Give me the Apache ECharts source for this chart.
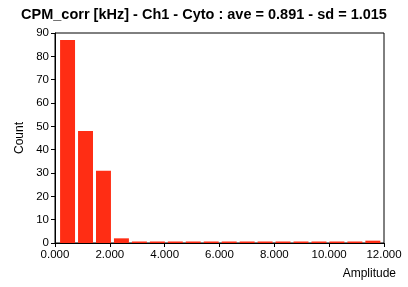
<!DOCTYPE html>
<html><head><meta charset="utf-8">
<script src="https://cdn.jsdelivr.net/npm/echarts@6/dist/echarts.min.js"></script>
<style>html,body{margin:0;padding:0;background:#fff}#c{width:408px;height:287px}</style>
</head><body><div id="c"></div>
<script>
const titleText = 'CPM_corr [kHz] - Ch1 - Cyto : ave = 0.891 - sd = 1.015';
const binCenters = [0.458, 1.113, 1.768, 2.423, 3.078, 3.733, 4.388, 5.043, 5.698, 6.353, 7.008, 7.663, 8.318, 8.973, 9.628, 10.283, 10.938, 11.593];
const binWidth = 0.655;
const counts = [87, 48, 31, 2, 0, 0, 0, 0, 0, 0, 0, 0, 0, 0, 0, 0, 0, 1];
const xTicks = [0, 2, 4, 6, 8, 10, 12];
const yTicks = [0, 10, 20, 30, 40, 50, 60, 70, 80, 90];

const chart = echarts.init(document.getElementById('c'), null, {renderer: 'canvas'});
const font = 'Liberation Sans';
chart.setOption({
  animation: false,
  title: {text: titleText, left: 'center', top: 2,
    textStyle: {fontFamily: font, fontWeight: 'bold', fontSize: 14.5, color: '#000'}},
  grid: {left: 55, right: 24, top: 33, bottom: 44, show: true, borderColor: '#000', borderWidth: 1},
  xAxis: {type: 'value', min: 0, max: 12, interval: 2,
    name: 'Amplitude', nameLocation: 'end', nameGap: 12,
    nameTextStyle: {fontFamily: font, fontSize: 12, color: '#000', align: 'right', verticalAlign: 'top', padding: [25, 0, 0, 0]},
    axisLine: {lineStyle: {color: '#000'}}, axisTick: {show: true, length: 4, lineStyle: {color: '#000'}},
    axisLabel: {fontFamily: font, fontSize: 11.5, color: '#000', margin: 6, formatter: v => v.toFixed(3)},
    splitLine: {show: false}},
  yAxis: {type: 'value', min: 0, max: 90, interval: 10,
    name: 'Count', nameLocation: 'middle', nameGap: 25,
    nameTextStyle: {fontFamily: font, fontSize: 12, color: '#000'},
    axisLine: {show: true, lineStyle: {color: '#000'}}, axisTick: {show: true, length: 4, lineStyle: {color: '#000'}},
    axisLabel: {fontFamily: font, fontSize: 11.5, color: '#000', margin: 6},
    splitLine: {show: false}},
  series: [{
    type: 'custom',
    data: binCenters.map((c, i) => [c, counts[i]]),
    encode: {x: 0, y: 1},
    renderItem: function (params, api) {
      const c = api.value(0), v = api.value(1);
      const p0 = api.coord([c - binWidth / 2, 0]);
      const p1 = api.coord([c + binWidth / 2, v]);
      let h = p0[1] - p1[1];
      if (h < 1.5) h = 1.5;
      return {type: 'rect', shape: {x: p0[0] + 1.5, y: p0[1] - h, width: p1[0] - p0[0] - 3, height: h},
        style: {fill: '#FF2D14'}};
    }
  }]
});
</script></body></html>
